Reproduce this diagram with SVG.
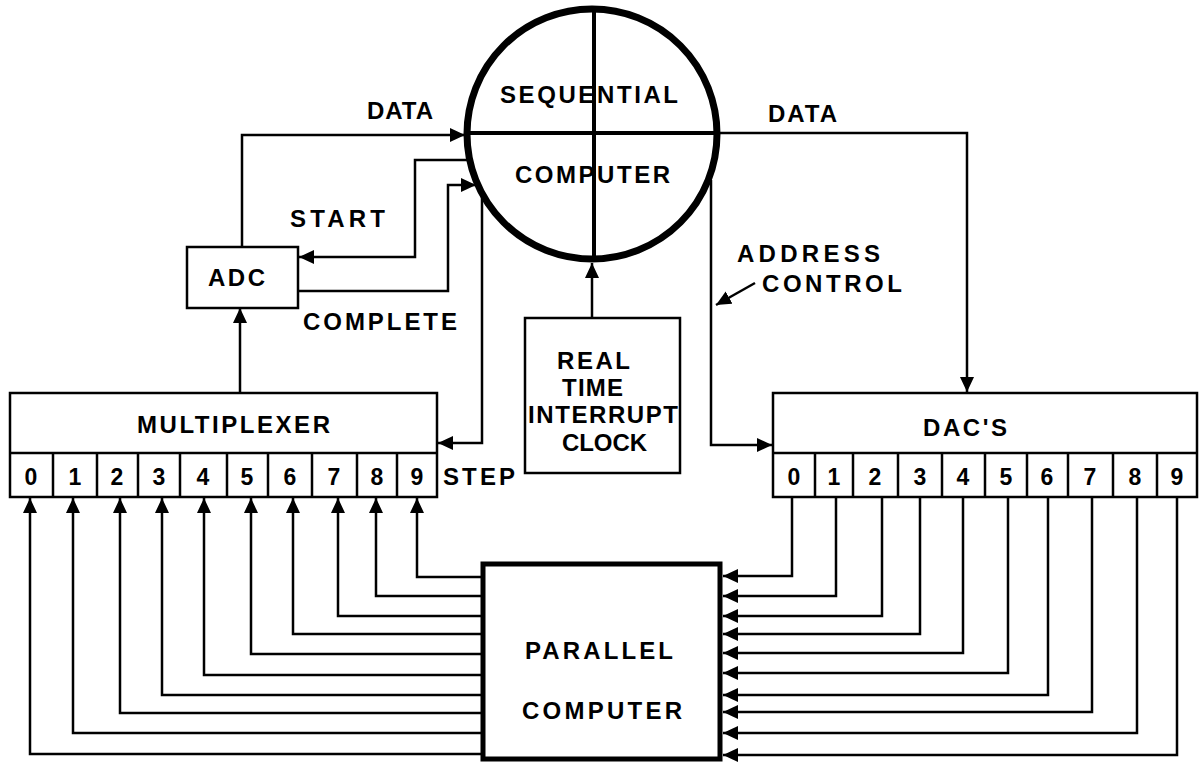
<svg xmlns="http://www.w3.org/2000/svg" width="1199" height="763" viewBox="0 0 1199 763">
<style>
text{font-family:"Liberation Sans",Arial,sans-serif;font-weight:bold;fill:#000;font-size:24px}
.d{text-anchor:middle;font-size:23px}
.w{fill:none;stroke:#000;stroke-width:2.5;stroke-linejoin:miter}
.box{fill:#fff;stroke:#000;stroke-width:2.5}
</style>
<defs>
<marker id="a" markerUnits="userSpaceOnUse" markerWidth="18" markerHeight="16" refX="15" refY="7" orient="auto">
<path d="M0,0 L15,7 L0,14 Z" fill="#000"/>
</marker>
</defs>
<rect width="1199" height="763" fill="#fff"/>

<g id="connectors">
<path class="w" d="M242,247 V135 H465" marker-end="url(#a)"/>
<path class="w" d="M470,160 H415 V257 H299" marker-end="url(#a)"/>
<path class="w" d="M298,291 H448 V185 H476" marker-end="url(#a)"/>
<path class="w" d="M482,195 V443 H438" marker-end="url(#a)"/>
<path class="w" d="M711,180 V445 H772" marker-end="url(#a)"/>
<path class="w" d="M717,133 H967 V392" marker-end="url(#a)"/>
<path class="w" d="M592,318 V263" marker-end="url(#a)"/>
<path class="w" d="M240,393 V308" marker-end="url(#a)"/>
<path class="w" d="M755,283 L716,305" marker-end="url(#a)"/>
<path class="w" d="M481,754 H30 V498" marker-end="url(#a)"/>
<path class="w" d="M481,733 H73 V498" marker-end="url(#a)"/>
<path class="w" d="M481,713 H120 V498" marker-end="url(#a)"/>
<path class="w" d="M481,695 H162 V498" marker-end="url(#a)"/>
<path class="w" d="M481,675 H204 V498" marker-end="url(#a)"/>
<path class="w" d="M481,654 H251 V498" marker-end="url(#a)"/>
<path class="w" d="M481,634 H293 V498" marker-end="url(#a)"/>
<path class="w" d="M481,616 H338 V498" marker-end="url(#a)"/>
<path class="w" d="M481,596 H376 V498" marker-end="url(#a)"/>
<path class="w" d="M481,577 H417 V498" marker-end="url(#a)"/>
<path class="w" d="M792,497 V576 H723" marker-end="url(#a)"/>
<path class="w" d="M836,497 V596 H723" marker-end="url(#a)"/>
<path class="w" d="M882,497 V616 H723" marker-end="url(#a)"/>
<path class="w" d="M920,497 V634 H723" marker-end="url(#a)"/>
<path class="w" d="M963,497 V653 H723" marker-end="url(#a)"/>
<path class="w" d="M1008,497 V673 H723" marker-end="url(#a)"/>
<path class="w" d="M1048,497 V695 H723" marker-end="url(#a)"/>
<path class="w" d="M1092,497 V712 H723" marker-end="url(#a)"/>
<path class="w" d="M1137,497 V733 H723" marker-end="url(#a)"/>
<path class="w" d="M1177,497 V755 H723" marker-end="url(#a)"/>
</g>

<g id="labels">
<text x="367" y="119" textLength="66" lengthAdjust="spacing">DATA</text>
<text x="768" y="122" textLength="69" lengthAdjust="spacing">DATA</text>
<text x="290" y="227" textLength="95" lengthAdjust="spacing">START</text>
<text x="303" y="330" textLength="154" lengthAdjust="spacing">COMPLETE</text>
<text x="737" y="262" textLength="143" lengthAdjust="spacing">ADDRESS</text>
<text x="762" y="292" textLength="140" lengthAdjust="spacing">CONTROL</text>
<text x="443" y="485" textLength="72" lengthAdjust="spacing">STEP</text>
</g>

<g id="sequential-computer">
<circle cx="592" cy="134" r="125" fill="#fff" stroke="#000" stroke-width="7"/>
<text x="500" y="103" textLength="178" lengthAdjust="spacing">SEQUENTIAL</text>
<text x="515" y="183" textLength="155" lengthAdjust="spacing">COMPUTER</text>
<line x1="594" y1="9" x2="594" y2="259" stroke="#000" stroke-width="4"/>
<line x1="467" y1="133" x2="717" y2="133" stroke="#000" stroke-width="4"/>
</g>

<g id="adc">
<rect class="box" x="187" y="247" width="111" height="61"/>
<text x="208" y="286" textLength="57" lengthAdjust="spacing">ADC</text>
</g>

<g id="clock">
<rect class="box" x="525" y="318" width="155" height="155"/>
<text x="557" y="369" textLength="73" lengthAdjust="spacing">REAL</text>
<text x="562" y="396" textLength="61" lengthAdjust="spacing">TIME</text>
<text x="528" y="423" textLength="150" lengthAdjust="spacing">INTERRUPT</text>
<text x="562" y="451" textLength="85" lengthAdjust="spacing">CLOCK</text>
</g>

<g id="multiplexer">
<rect class="box" x="10" y="393" width="427" height="104"/>
<path class="w" d="M10,453 H437 M53,453 V497 M97,453 V497 M138,453 V497 M180,453 V497 M227,453 V497 M268,453 V497 M312,453 V497 M357,453 V497 M397,453 V497"/>
<text x="137" y="433" textLength="193" lengthAdjust="spacing">MULTIPLEXER</text>
<text class="d" x="31" y="485">0</text>
<text class="d" x="75" y="485">1</text>
<text class="d" x="117" y="485">2</text>
<text class="d" x="159" y="485">3</text>
<text class="d" x="203" y="485">4</text>
<text class="d" x="247" y="485">5</text>
<text class="d" x="290" y="485">6</text>
<text class="d" x="334" y="485">7</text>
<text class="d" x="377" y="485">8</text>
<text class="d" x="417" y="485">9</text>
</g>

<g id="dacs">
<rect class="box" x="773" y="393" width="424" height="104"/>
<path class="w" d="M773,453 H1197 M815,453 V497 M853,453 V497 M898,453 V497 M942,453 V497 M985,453 V497 M1027,453 V497 M1068,453 V497 M1113,453 V497 M1157,453 V497"/>
<text x="923" y="436" textLength="84" lengthAdjust="spacing">DAC'S</text>
<text class="d" x="794" y="485">0</text>
<text class="d" x="834" y="485">1</text>
<text class="d" x="875" y="485">2</text>
<text class="d" x="920" y="485">3</text>
<text class="d" x="963" y="485">4</text>
<text class="d" x="1006" y="485">5</text>
<text class="d" x="1047" y="485">6</text>
<text class="d" x="1090" y="485">7</text>
<text class="d" x="1135" y="485">8</text>
<text class="d" x="1177" y="485">9</text>
</g>

<g id="parallel-computer">
<rect x="483" y="564" width="237" height="195" fill="#fff" stroke="#000" stroke-width="5"/>
<text x="525" y="659" textLength="148" lengthAdjust="spacing">PARALLEL</text>
<text x="522" y="719" textLength="160" lengthAdjust="spacing">COMPUTER</text>
</g>
</svg>
